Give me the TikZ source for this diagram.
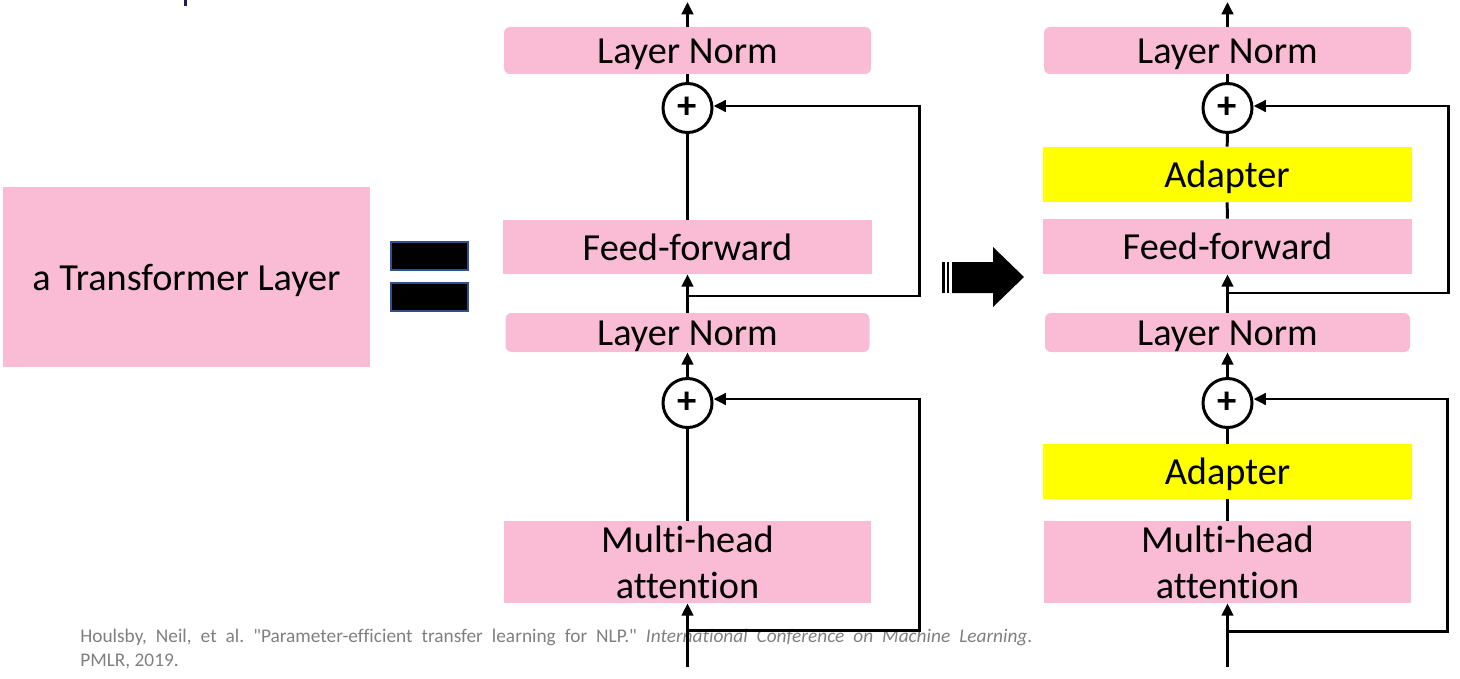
\documentclass[tikz,border=0pt]{standalone}
\usepackage{fontspec}
\setmainfont{Carlito}[Ligatures={TeX,NoCommon}]
\usetikzlibrary{arrows.meta}
\definecolor{pinkbox}{RGB}{250,188,212}
\definecolor{adapteryellow}{RGB}{255,255,0}
\definecolor{eqblue}{RGB}{47,82,143}
\definecolor{citegray}{RGB}{128,128,128}
\definecolor{titleblue}{RGB}{23,32,90}
\def\PX{0.02cm}
\frenchspacing
\begin{document}
\begin{tikzpicture}[x=0.02cm,y=-0.02cm,
  block/.style={fill=pinkbox, inner sep=0pt, font=\fontsize{21.8}{26}\selectfont, align=center},
  oneline/.style={text height=14.8pt, text depth=0pt},
  roundblock/.style={block, oneline, rounded corners=0.12cm},
  flatblock/.style={block, oneline},
  adapterbox/.style={block, oneline, fill=adapteryellow},
  sumnode/.style={circle, draw, fill=white, line width=1.7pt, minimum size=49*\PX, inner sep=0pt, font=\fontsize{22}{22}\selectfont\bfseries},
  eqbar/.style={fill=black, draw=eqblue, line width=0.6pt, minimum width=77*\PX, minimum height=28*\PX, inner sep=0pt},
  flow/.style={line width=1.7pt},
  arr/.style={flow, -{Triangle[length=7pt,width=6.5pt]}}
]
\useasboundingbox (0,0) rectangle (1460,679);

% fragment of a cut-off title
\fill[titleblue] (184,0) rectangle (187,6);

% citation
\node[anchor=north west, inner sep=0pt, text width=952*\PX, align=justify,
      font=\fontsize{11}{13.6}\selectfont, text=citegray] (cite) at (80,629)
  {\hbadness=10000 Houlsby, Neil, et al. \textquotedbl Parameter-efficient transfer learning for NLP.\textquotedbl{} \textit{International Conference on Machine Learning}.\linebreak PMLR, 2019.};

% left box
\node[flatblock, minimum width=367*\PX, minimum height=180*\PX] (tl) at (186.5,277) {a Transformer Layer};

% equals sign
\node[eqbar] (eqA) at (429.5,256) {};
\node[eqbar] (eqB) at (429.5,297) {};

% block arrow
\fill (942,262) rectangle (945,293);
\fill (946.7,262) rectangle (949.3,293);
\fill (952,262) -- (993,262) -- (993,247) -- (1024,277) -- (993,307) -- (993,293) -- (952,293) -- cycle;

% ---------- middle column ----------
\node[roundblock, minimum width=367*\PX, minimum height=47*\PX] (lnA) at (687.5,50.5) {Layer Norm};
\node[sumnode] (pA) at (687.5,108) {+};
\node[flatblock, minimum width=369*\PX, minimum height=54*\PX] (ffA) at (687.5,247) {Feed-forward};
\node[roundblock, minimum width=364*\PX, minimum height=39*\PX] (lnB) at (687.5,332.5) {Layer Norm};
\node[sumnode] (pB) at (687.5,403) {+};
\node[block, minimum width=367*\PX, minimum height=82*\PX] (mhA) at (687.5,562) {Multi-head\\attention};

\coordinate (inA) at (687.5,667);
\coordinate (outA) at (687.5,2);
\coordinate (bA1) at (687.5,296);
\coordinate (rA1) at (919,106);
\coordinate (bA2) at (687.5,630);
\coordinate (rA2) at (919,399);

\draw[arr] (inA) -- (mhA);
\draw[flow] (mhA) -- (pB);
\draw[arr] (pB) -- (lnB);
\draw[arr] (lnB) -- (ffA);
\draw[flow] (ffA) -- (pA);
\draw[flow] (pA) -- (lnA);
\draw[arr] (lnA) -- (outA);
\draw[arr] (bA1) -| (rA1) -- (pA.east |- rA1);
\draw[arr] (bA2) -| (rA2) -- (pB.east |- rA2);

% ---------- right column ----------
\node[roundblock, minimum width=367*\PX, minimum height=47*\PX] (lnC) at (1227.5,50.5) {Layer Norm};
\node[sumnode] (pC) at (1227.5,108) {+};
\node[adapterbox, minimum width=369*\PX, minimum height=55*\PX] (adC) at (1227,174.5) {Adapter};
\node[flatblock, minimum width=369*\PX, minimum height=55*\PX] (ffC) at (1227.5,246.5) {Feed-forward};
\node[roundblock, minimum width=365*\PX, minimum height=39*\PX] (lnD) at (1227.5,332.5) {Layer Norm};
\node[sumnode] (pD) at (1227.5,403) {+};
\node[adapterbox, minimum width=369*\PX, minimum height=55*\PX] (adD) at (1227.5,471.5) {Adapter};
\node[block, minimum width=367*\PX, minimum height=82*\PX] (mhC) at (1227.5,562) {Multi-head\\attention};

\coordinate (inC) at (1227.5,667);
\coordinate (outC) at (1227.5,2);
\coordinate (bC1) at (1227.5,293);
\coordinate (rC1) at (1448,106);
\coordinate (bC2) at (1227.5,631);
\coordinate (rC2) at (1447,399);

\draw[arr] (inC) -- (mhC);
\draw[flow] (mhC) -- (adD);
\draw[flow] (adD) -- (pD);
\draw[arr] (pD) -- (lnD);
\draw[arr] (lnD) -- (ffC);
\draw[flow] (ffC) -- (adC);
\draw[flow] (adC) -- (pC);
\draw[flow] (pC) -- (lnC);
\draw[arr] (lnC) -- (outC);
\draw[arr] (bC1) -| (rC1) -- (pC.east |- rC1);
\draw[arr] (bC2) -| (rC2) -- (pD.east |- rC2);
\end{tikzpicture}
\end{document}
